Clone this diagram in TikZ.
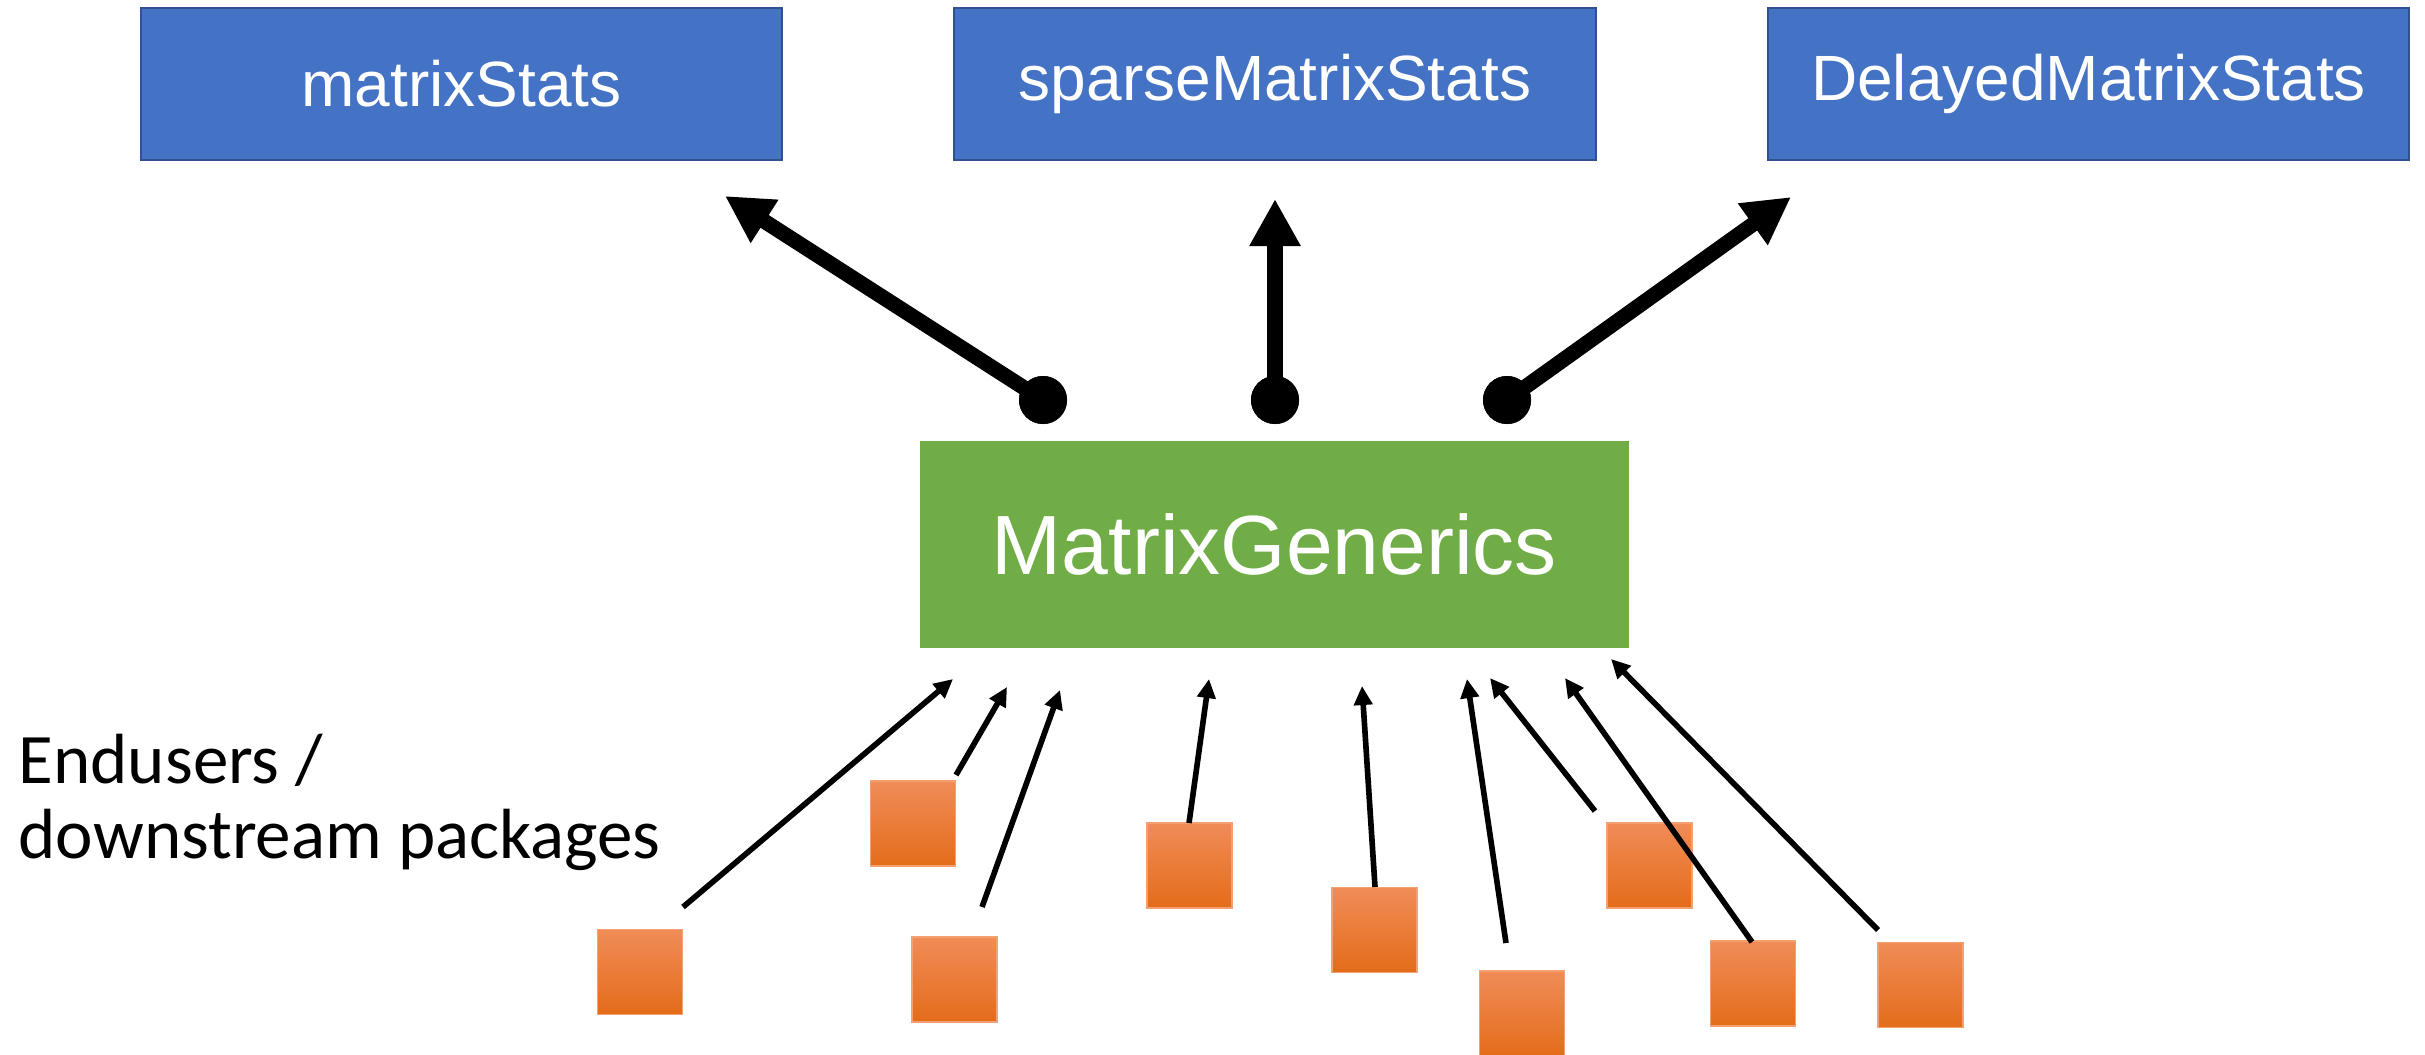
\documentclass[tikz,border=0pt]{standalone}
\usepackage{fontspec}
\setmainfont{Liberation Sans}
\newfontfamily\labelfont{Carlito}
\usetikzlibrary{arrows.meta}
\definecolor{pkgblue}{HTML}{4472C4}
\definecolor{pkgblueline}{HTML}{2F528F}
\definecolor{gengreen}{HTML}{70AD47}
\definecolor{orgtop}{HTML}{F08C58}
\definecolor{orgmid}{HTML}{F47F2A}
\definecolor{orgbot}{HTML}{E46C1A}
\definecolor{orgline}{HTML}{F4A070}
\tikzset{
  pkgbox/.style={draw=pkgblueline, line width=0.6pt, fill=pkgblue, text=white,
    minimum width=6.41cm, minimum height=1.52cm, inner sep=0pt,
    font=\fontsize{18.2}{20}\selectfont},
  genbox/.style={fill=gengreen, text=white, minimum width=7.09cm, minimum height=2.07cm,
    inner sep=0pt, font=\fontsize{23.9}{26}\selectfont},
  userbox/.style={draw=orgline, line width=0.4pt, top color=orgtop, middle color=orgmid,
    bottom color=orgbot, minimum size=0.85cm, inner sep=0pt},
  dotnode/.style={circle, fill=black, minimum size=0.48cm, inner sep=0pt},
  thickarrow/.style={line width=4.3pt, -{Triangle[length=4.7mm,width=4.8mm]}},
  thinarrow/.style={line width=1.6pt, -{Triangle[length=1.9mm,width=1.8mm]}},
  sidelabel/.style={anchor=base west, inner sep=0pt, font=\labelfont\fontsize{20.2}{21.3}\selectfont}
}
\begin{document}
\begin{tikzpicture}[x=0.01cm, y=-0.01cm]
\useasboundingbox (0,0) rectangle (2425,1054);

% top packages
\node[pkgbox] (ms)  at (461.5,84) {matrixStats};
\node[pkgbox] (sms) at (1275,84) {sparseMatrixStats};
\node[pkgbox] (dms) at (2088.5,84) {DelayedMatrixStats};

% central package
\node[genbox] (mg) at (1274.5,544.5) {MatrixGenerics};

% dots and thick arrows
\node[dotnode] (d1) at (1043,400) {};
\node[dotnode] (d2) at (1275,400) {};
\node[dotnode] (d3) at (1507,400) {};
\coordinate (t1) at (725,196);
\coordinate (t2) at (1275,199);
\coordinate (t3) at (1791,197);
\draw[thickarrow] (d1.center) -- (t1);
\draw[thickarrow] (d2.center) -- (t2);
\draw[thickarrow] (d3.center) -- (t3);
\node[dotnode] at (d1) {};
\node[dotnode] at (d2) {};
\node[dotnode] at (d3) {};

% side label
\node[sidelabel] (lab1) at (18,783) {Endusers /};
\node[sidelabel] (lab2) at (18,858) {downstream packages};

% downstream packages
\node[userbox] (s1) at (640,972) {};
\node[userbox] (s2) at (913,823.5) {};
\node[userbox] (s3) at (954.5,979.5) {};
\node[userbox] (s4) at (1189.5,865.5) {};
\node[userbox] (s5) at (1374.5,930) {};
\node[userbox] (s6) at (1522,1013.5) {};
\node[userbox] (s7) at (1649.5,865.5) {};
\node[userbox] (s8) at (1753,983.5) {};
\node[userbox] (s9) at (1920.5,985) {};

% thin arrows (start / tip)
\coordinate (a1) at (683,907);  \coordinate (b1) at (953,679);
\coordinate (a2) at (956,775);  \coordinate (b2) at (1007,687);
\coordinate (a3) at (982,907);  \coordinate (b3) at (1060,690);
\coordinate (a4) at (1189,823); \coordinate (b4) at (1209,679);
\coordinate (a5) at (1375,887); \coordinate (b5) at (1362,686);
\coordinate (a6) at (1506,943); \coordinate (b6) at (1467,679);
\coordinate (a7) at (1595,811); \coordinate (b7) at (1490,678);
\coordinate (a8) at (1752,942); \coordinate (b8) at (1565,678);
\coordinate (a9) at (1878,930); \coordinate (b9) at (1611,659);
\foreach \i in {1,...,9} {
  \draw[thinarrow] (a\i) -- (b\i);
}
\end{tikzpicture}
\end{document}
